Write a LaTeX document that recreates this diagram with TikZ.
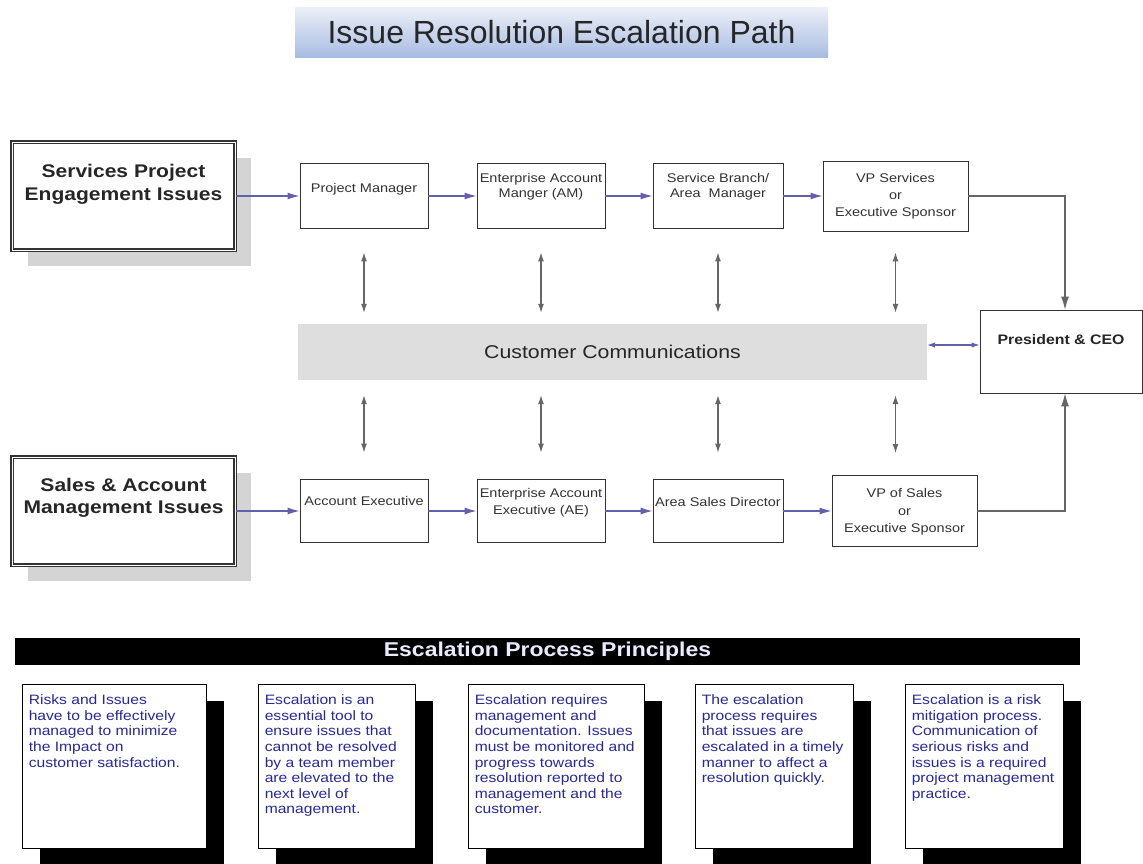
\documentclass[tikz,border=0pt]{standalone}
\usepackage{fontspec}
\setmainfont{Liberation Sans}[FakeStretch=1.15]
\newfontfamily\titlefont{Liberation Sans}
\usepackage{tikz}
\usetikzlibrary{arrows.meta, positioning, shadows}
\usepackage{xcolor}
\definecolor{flowblue}{RGB}{100,95,170}
\definecolor{titletop}{RGB}{236,240,248}
\definecolor{titleblue}{RGB}{168,188,226}
\definecolor{notenavy}{RGB}{40,40,150}
\definecolor{commgray}{RGB}{222,222,222}
\definecolor{barwhite}{RGB}{235,235,255}

\begin{document}
\begin{tikzpicture}[
  x=1pt, y=-1pt,
  >=Latex,
  titlebar/.style={minimum width=533pt, minimum height=50pt, inner sep=0pt, top color=titletop, bottom color=titleblue, text=black!85, font=\titlefont\fontsize{32}{38}\selectfont},
  box/.style={draw=black!80, fill=white, line width=0.9pt, inner sep=0pt},
  boxtext/.style={anchor=north, align=center, inner sep=0pt, minimum size=0pt, draw=none, fill=none, text=black!80, font=\fontsize{12.6}{15}\selectfont},
  issue/.style={draw=black!80, fill=white, line width=1.4pt, double=white, double distance=0.8pt, inner sep=0pt, minimum width=223pt, minimum height=108pt, drop shadow={shadow xshift=16pt, shadow yshift=-16pt, fill=black!30, opacity=.55}},
  issuetext/.style={boxtext, text=black!85, font=\bfseries\fontsize{18.3}{22.5}\selectfont},
  comm/.style={fill=commgray, minimum width=629pt, minimum height=56pt, inner sep=0pt, text=black!85, font=\fontsize{18.5}{22}\selectfont},
  header/.style={fill=black, minimum width=1065pt, minimum height=27pt, inner sep=0pt, text=barwhite, font=\bfseries\fontsize{20}{24}\selectfont},
  note/.style={draw=black, fill=white, line width=0.9pt, inner sep=0pt, minimum height=164pt, drop shadow={shadow xshift=18pt, shadow yshift=-17pt, fill=black, opacity=1}},
  notetext/.style={anchor=north west, xshift=7pt, yshift=-11pt, align=left, inner sep=0pt, minimum size=0pt, draw=none, fill=none, text=notenavy, font=\fontsize{13.6}{15.6}\selectfont},
  flow/.style={-{Latex[length=12pt, width=7pt]}, draw=flowblue, line width=1.1pt},
  both/.style={{Latex[length=8pt, width=5.5pt]}-{Latex[length=8pt, width=5.5pt]}, draw=flowblue, line width=1.1pt},
  updown/.style={{Latex[length=9pt, width=6pt]}-{Latex[length=9pt, width=6pt]}, draw=black!60, line width=1.1pt},
  toceo/.style={-{Latex[length=13pt, width=8pt]}, draw=black!60, line width=1.1pt}
]
  \path[use as bounding box, fill=white] (0,0) rectangle (1143,863);

  % TITLE ================================
  \node[titlebar] (title) at (561.5,32) {Issue Resolution Escalation Path};

  % Services row
  \node[issue, label={[issuetext, yshift=-23pt]north:{Services Project\\Engagement Issues}}] (spe) at (123.5,196) {};
  \node[box, minimum width=128pt, minimum height=65pt, label={[boxtext, yshift=-20pt]north:Project Manager}] (pm) at (364,196) {};
  \node[box, minimum width=128pt, minimum height=65pt, label={[boxtext, yshift=-10.5pt]north:{Enterprise Account\\Manger (AM)}}] (am) at (541,196) {};
  \node[box, minimum width=130pt, minimum height=65pt, label={[boxtext, yshift=-10.5pt]north:{Service Branch/\\Area~ Manager}}] (sb) at (718,196) {};
  \node[box, minimum width=145pt, minimum height=70pt, label={[boxtext, yshift=-12.5pt, font=\fontsize{12.6}{17}\selectfont]north:{VP Services\\or\\Executive Sponsor}}] (vps) at (895.5,196) {};

  % Customer communications and CEO
  \node[comm] (comm) at (612.5,352) {Customer Communications};
  \node[box, minimum width=162pt, minimum height=83pt, label={[boxtext, yshift=-25pt, text=black!85, font=\bfseries\fontsize{13.8}{16}\selectfont]north:President \& CEO}] (ceo) at (1061,351.5) {};

  % Sales row
  \node[issue, label={[issuetext, yshift=-21.5pt]north:{Sales \& Account\\Management Issues}}] (sam) at (123.5,511) {};
  \node[box, minimum width=128pt, minimum height=63pt, label={[boxtext, yshift=-17.5pt]north:Account Executive}] (ae) at (364,511) {};
  \node[box, minimum width=128pt, minimum height=63pt, label={[boxtext, yshift=-9.5pt, font=\fontsize{12.6}{17}\selectfont]north:{Enterprise Account\\Executive (AE)}}] (eae) at (541,511) {};
  \node[box, minimum width=130pt, minimum height=63pt, label={[boxtext, yshift=-18.5pt]north:Area Sales Director}] (asd) at (718,511) {};
  \node[box, minimum width=145pt, minimum height=71pt, label={[boxtext, yshift=-13.5pt, font=\fontsize{12.6}{17.5}\selectfont]north:{VP of Sales\\or\\Executive Sponsor}}] (vpsales) at (904.5,511) {};

  % Principles
  \node[header] (principles) at (547.5,651.5) {Escalation Process Principles};
  \node[note, minimum width=184pt, label={[notetext]north west:{Risks and Issues\\have to be effectively\\managed to minimize\\the Impact on\\customer satisfaction.}}] (p1) at (114,766) {};
  \node[note, minimum width=157pt, label={[notetext]north west:{Escalation is an\\essential tool to\\ensure issues that\\cannot be resolved\\by a team member\\are elevated to the\\next level of\\management.}}] (p2) at (336.5,766) {};
  \node[note, minimum width=176pt, label={[notetext]north west:{Escalation requires\\management and\\documentation. Issues\\must be monitored and\\progress towards\\resolution reported to\\management and the\\customer.}}] (p3) at (556,766) {};
  \node[note, minimum width=158pt, label={[notetext]north west:{The escalation\\process requires\\that issues are\\escalated in a timely\\manner to affect a\\resolution quickly.}}] (p4) at (774,766) {};
  \node[note, minimum width=158pt, label={[notetext]north west:{Escalation is a risk\\mitigation process.\\Communication of\\serious risks and\\issues is a required\\project management\\practice.}}] (p5) at (984,766) {};

  % Horizontal flow
  \draw[flow] (spe) -- (pm);
  \draw[flow] (pm) -- (am);
  \draw[flow] (am) -- (sb);
  \draw[flow] (sb) -- (vps);
  \draw[flow] (sam) -- (ae);
  \draw[flow] (ae) -- (eae);
  \draw[flow] (eae) -- (asd);
  \draw[flow] (asd) -- (vpsales);

  % Up to the CEO
  \draw[toceo] (vps) -| ([xshift=4pt]ceo.north);
  \draw[toceo] (vpsales) -| ([xshift=4pt]ceo.south);
  \draw[both] ([yshift=7pt]comm.east) -- ([yshift=7pt]comm.east -| ceo.west);

  % Links with customer communications
  \draw[updown, shorten <=23.5pt, shorten >=11pt] (pm.south) -- (pm.south |- comm.north);
  \draw[updown, shorten <=23.5pt, shorten >=11pt] (am.south) -- (am.south |- comm.north);
  \draw[updown, shorten <=23.5pt, shorten >=11pt] (sb.south) -- (sb.south |- comm.north);
  \draw[updown, shorten <=21pt, shorten >=11pt] (vps.south) -- (vps.south |- comm.north);
  \draw[updown, shorten <=15pt, shorten >=26.5pt] (pm.south |- comm.south) -- (ae.north);
  \draw[updown, shorten <=15pt, shorten >=26.5pt] (am.south |- comm.south) -- (eae.north);
  \draw[updown, shorten <=15pt, shorten >=26.5pt] (sb.south |- comm.south) -- (asd.north);
  \draw[updown, shorten <=15pt, shorten >=22pt] (vps.south |- comm.south) -- (vps.south |- vpsales.north);

\end{tikzpicture}
\end{document}
